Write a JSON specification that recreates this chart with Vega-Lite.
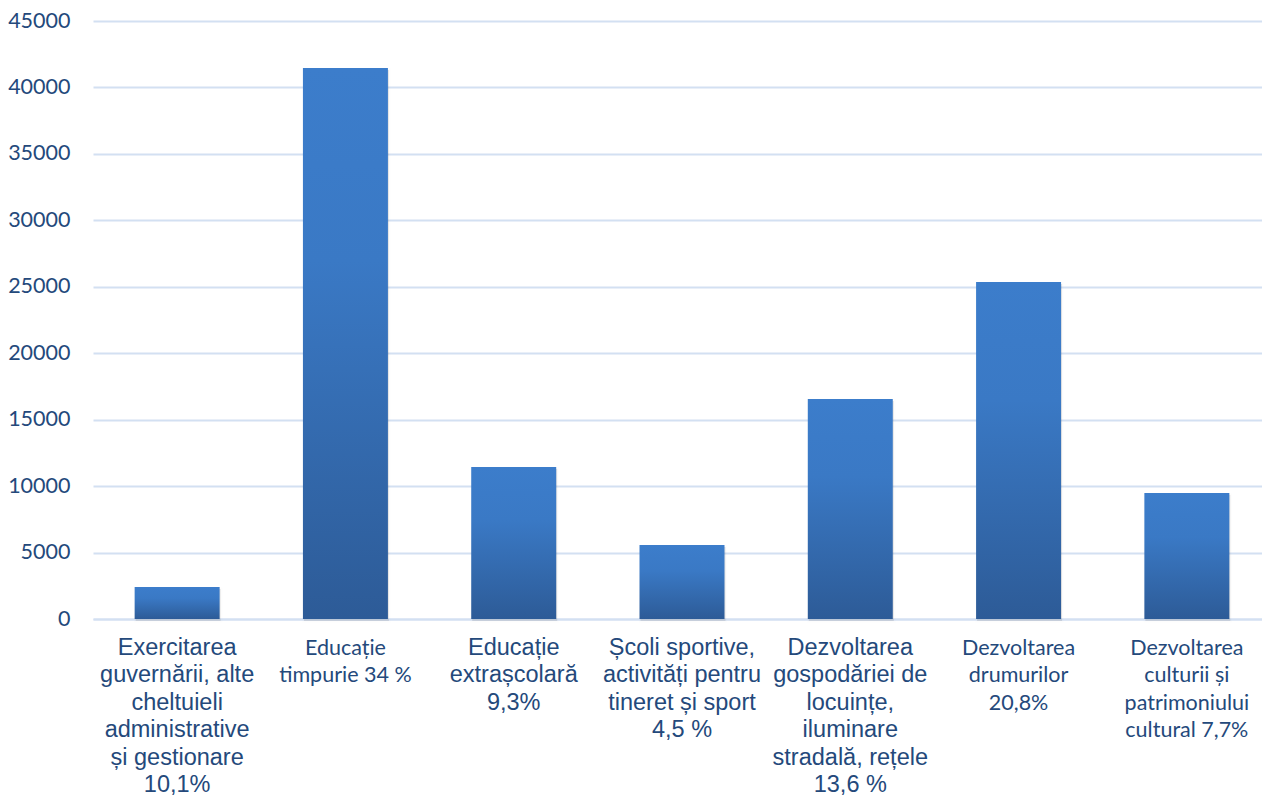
{
  "$schema": "https://vega.github.io/schema/vega-lite/v6.json",
  "autosize": "none",
  "padding": {"left": 93, "top": 21, "right": 0, "bottom": 177},
  "width": 1178,
  "height": 598,
  "background": "white",
  "config": {"view": {"stroke": null}},
  "data": {
    "values": [
      {"label": "Exercitarea|guvernării, alte|cheltuieli|administrative|și gestionare|10,1%", "value": 2408},
      {"label": "Educație|timpurie 34 %", "value": 41463},
      {"label": "Educație|extrașcolară|9,3%", "value": 11438},
      {"label": "Școli sportive,|activități pentru|tineret și sport|4,5 %", "value": 5569},
      {"label": "Dezvoltarea|gospodăriei de|locuințe,|iluminare|stradală, rețele|13,6 %", "value": 16555},
      {"label": "Dezvoltarea|drumurilor|20,8%", "value": 25359},
      {"label": "Dezvoltarea|culturii și|patrimoniului|cultural 7,7%", "value": 9482}
    ]
  },
  "encoding": {
    "x": {
      "field": "label",
      "type": "nominal",
      "sort": null,
      "scale": {"paddingInner": 0.495},
      "axis": {
        "title": null,
        "labelAngle": 0,
        "labelExpr": "split(datum.label, '|')",
        "labelBaseline": "alphabetic",
        "labelPadding": 35,
        "labelColor": "#24497B",
        "labelLimit": 0,
        "labelOverlap": false,
        "labelLineHeight": 27.5,
        "labelFont": {"condition": {"test": "indexof(datum.value,'timpurie')>=0 || indexof(datum.value,'drumurilor')>=0 || indexof(datum.value,'patrimoniului')>=0", "value": "Lato"}, "value": "Liberation Sans"},
        "labelFontSize": {"condition": {"test": "indexof(datum.value,'timpurie')>=0 || indexof(datum.value,'drumurilor')>=0 || indexof(datum.value,'patrimoniului')>=0", "value": 21.5}, "value": 23.5},
        "encode": {
          "labels": {
            "update": {
              "lineHeight": {"signal": "(indexof(datum.value,'timpurie')>=0 || indexof(datum.value,'drumurilor')>=0 || indexof(datum.value,'patrimoniului')>=0) ? 29.3 : 27.5"}
            }
          }
        },
        "ticks": false,
        "domainColor": "#D3E0F2",
        "domainWidth": 1.8
      }
    },
    "y": {
      "field": "value",
      "type": "quantitative",
      "scale": {"domain": [0, 45000]},
      "axis": {
        "title": null,
        "values": [0, 5000, 10000, 15000, 20000, 25000, 30000, 35000, 40000, 45000],
        "format": "d",
        "labelFont": "Lato",
        "labelFontSize": 21.5,
        "labelColor": "#24497B",
        "labelPadding": 23,
        "labelBaseline": "middle",
        "labelFlush": false,
        "ticks": false,
        "domain": false,
        "gridColor": "#D3E0F2",
        "gridWidth": 1.8
      }
    }
  },
  "layer": [
    {
      "mark": {"type": "bar", "color": "#000000", "opacity": 0.1, "stroke": "#000000", "strokeWidth": 3, "strokeOpacity": 0.05, "yOffset": 2, "xOffset": 1}
    },
    {
      "mark": {
        "type": "bar",
        "color": {
          "gradient": "linear",
          "x1": 0, "y1": 0, "x2": 0, "y2": 1,
          "stops": [
            {"offset": 0, "color": "#3C7DCB"},
            {"offset": 0.35, "color": "#3A79C5"},
            {"offset": 1, "color": "#2D5B97"}
          ]
        }
      }
    }
  ]
}
